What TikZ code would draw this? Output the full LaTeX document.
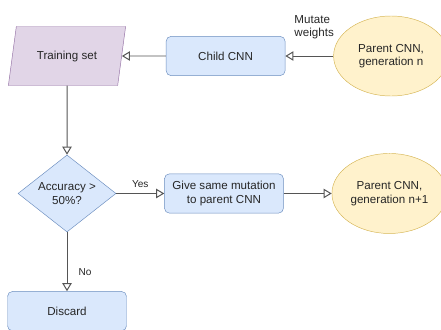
\documentclass[tikz,border=0pt]{standalone}
\usepackage{fontspec}
\setmainfont{Liberation Sans}
\usepackage{tikz}
\usetikzlibrary{positioning, shapes.geometric, arrows.meta}

\definecolor{boxfill}{HTML}{DAE8FC}
\definecolor{boxline}{HTML}{6C8EBF}
\definecolor{genfill}{HTML}{FFF2CC}
\definecolor{genline}{HTML}{D6B656}
\definecolor{datafill}{HTML}{E1D5E7}
\definecolor{dataline}{HTML}{9673A6}
\definecolor{arrline}{HTML}{555555}

\begin{document}
\begin{tikzpicture}[
    every node/.style={align=center, text=black!85, font=\fontsize{9.9}{11.5}\selectfont},
    box/.style={draw=boxline, fill=boxfill, rounded corners=0.15cm, minimum width=3.57cm, minimum height=1.18cm},
    gen/.style={draw=genline, fill=genfill, ellipse, inner sep=0pt, minimum width=3.45cm, minimum height=2.4cm},
    data/.style={draw=dataline, fill=datafill, trapezium, trapezium left angle=74, trapezium right angle=106,
        trapezium stretches=true, minimum width=3.54cm, minimum height=1.77cm},
    decision/.style={draw=boxline, fill=boxfill, diamond, shape aspect=1.27, inner sep=0.5pt, minimum width=2.94cm, minimum height=2.31cm},
    arr/.style={draw=arrline, line width=0.85pt, -{Triangle[open, length=2.4mm, width=2.8mm]}},
    lbl/.style={inner sep=1pt, font=\fontsize{8.6}{10}\selectfont}
]
\useasboundingbox (-2.01,1.68) rectangle (11.22,-8.19);

% Nodes
\node[data] (train) {Training set};
\node[box] (child) [right=1.32cm of train] {Child CNN};
\node[gen] (parentn) [right=1.44cm of child] {Parent CNN,\\ generation n};
\node[decision] (acc) [below=2.07cm of train] {Accuracy >\\ 50\%?};
\node[box] (give) [right=1.44cm of acc] {Give same mutation\\ to parent CNN};
\node[gen] (parentnext) [right=1.44cm of give] {Parent CNN,\\ generation n+1};
\node[box] (discard) [below=1.77cm of acc] {Discard};

% Arrows with labels
\draw[arr] (parentn) -- node[pos=0.4, above=0.45cm, align=left, inner sep=1pt]
    {Mutate\\ weights} (child);

\draw[arr] (child) -- (train);

\draw[arr] (train) -- (acc);

\draw[arr] (acc) -- node[lbl, above=0.12cm]
    {Yes} (give);

\draw[arr] (give) -- (parentnext);

\draw[arr] (acc) -- node[lbl, pos=0.68, right=0.3cm]
    {No} (discard);

\end{tikzpicture}
\end{document}
